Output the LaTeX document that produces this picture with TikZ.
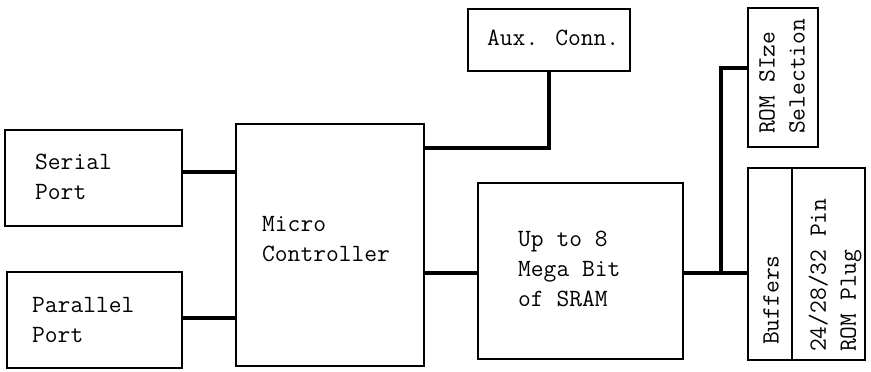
\documentclass[tikz,border=0pt]{standalone}
\usepackage{fontspec}
\begin{document}
\begin{tikzpicture}[x=1pt,y=-1pt,
  box/.style={draw, line width=2.8pt, inner sep=0pt},
  wire/.style={line width=4.8pt, line cap=butt, line join=miter},
  txt/.style={inner sep=0pt, align=left, font=\fontsize{24.8}{30}\selectfont\ttfamily}]
\useasboundingbox (0,0) rectangle (871,372);
% boxes
\node[box, minimum width=177pt, minimum height=96pt] (ser) at (93.5,178) {};
\node[box, minimum width=175pt, minimum height=96pt] (par) at (94.5,320) {};
\node[box, minimum width=188pt, minimum height=242pt] (mc) at (330,245) {};
\node[box, minimum width=162pt, minimum height=62pt] (aux) at (549,40) {};
\node[box, minimum width=205pt, minimum height=176pt] (sram) at (580.5,271) {};
\node[box, minimum width=70pt, minimum height=139pt] (rsz) at (783,77.5) {};
\node[box, minimum width=44pt, minimum height=192pt] (buf) at (770,264) {};
\node[box, minimum width=73pt, minimum height=192pt] (plug) at (828.5,264) {};
% texts
\node[txt, anchor=west] (sertxt) at (35,177) {Serial\\Port};
\node[txt, anchor=west] (partxt) at (32,320) {Parallel\\Port};
\node[txt, anchor=west] (mctxt) at (262,239) {Micro\\Controller};
\node[txt, anchor=west] (auxtxt) at (487,38) {Aux. Conn.};
\node[txt, anchor=west] (sramtxt) at (518,269) {Up to 8\\Mega Bit\\of SRAM};
\node[txt, anchor=west, rotate=90] (rsztxt) at (782,134) {ROM SIze\\Selection};
\node[txt, anchor=west, rotate=90] (buftxt) at (771,345) {Buffers};
\node[txt, anchor=west, rotate=90] (plugtxt) at (835,352) {24/28/32 Pin\\ROM Plug};
% connectors
\coordinate (j1) at (549,148);
\coordinate (j2) at (721,273);
\coordinate (j3) at (721,68);
\draw[wire] (ser.east |- 0,172) -- (mc.west |- 0,172);
\draw[wire] (par.east |- 0,318) -- (mc.west |- 0,318);
\draw[wire] (mc.east |- j1) -- (j1) -- (aux.south -| j1);
\draw[wire] (mc.east |- j2) -- (sram.west |- j2);
\draw[wire] (sram.east |- j2) -- (buf.west |- j2);
\draw[wire] (j2) -- (j3) -- (rsz.west |- j3);
\end{tikzpicture}
\end{document}
